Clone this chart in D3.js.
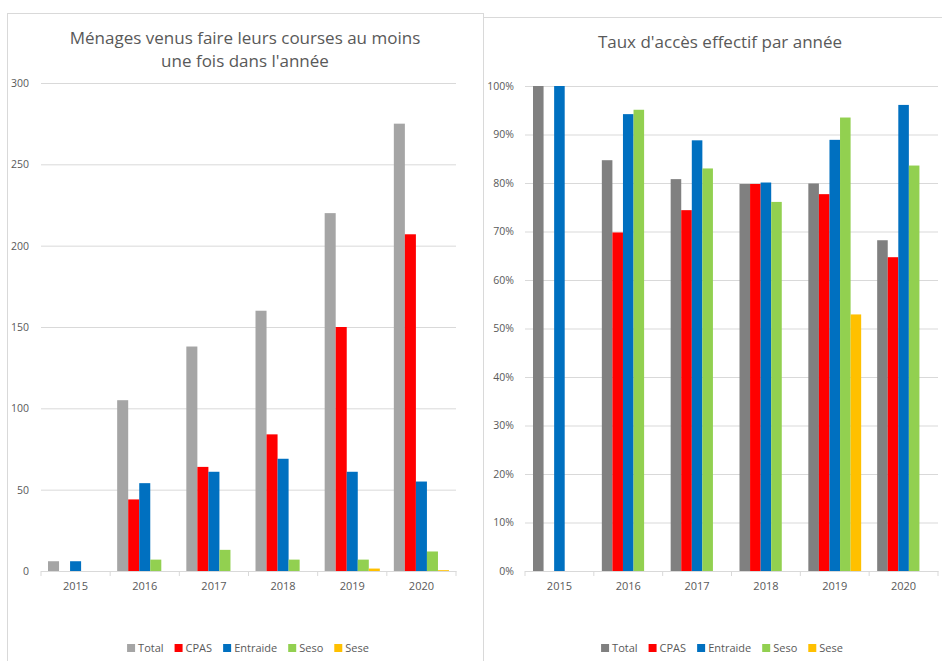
<!DOCTYPE html>
<html>
<head>
<meta charset="utf-8">
<script src="https://cdn.jsdelivr.net/npm/d3@7"></script>
<style>
  body { margin: 0; background: #fff; }
  svg { display: block; font-family: 'Open Sans', sans-serif; }
</style>
</head>
<body>
<svg id="chart" width="942" height="661"></svg>
<script>
const years = ['2015', '2016', '2017', '2018', '2019', '2020'];
const series = ['Total', 'CPAS', 'Entraide', 'Seso', 'Sese'];

// households per year (left chart)
const menTotal = [6, 105, 138, 160, 220, 275];
const menCpas = [0, 44, 64, 84, 150, 207];
const menEntraide = [6, 54, 61, 69, 61, 55];
const menSeso = [0, 7, 13, 7, 7, 12];
const menSese = [0, 0, 0, 0, 1.5, 0.5];
const menTicks = [0, 50, 100, 150, 200, 250, 300];

// effective access rate (right chart)
const tauxTotal = [1.0, 0.847, 0.808, 0.798, 0.799, 0.682];
const tauxCpas = [0, 0.698, 0.744, 0.798, 0.777, 0.647];
const tauxEntraide = [1.0, 0.942, 0.888, 0.801, 0.889, 0.961];
const tauxSeso = [0, 0.951, 0.830, 0.761, 0.935, 0.836];
const tauxSese = [0, 0, 0, 0, 0.529, 0];
const tauxTicks = [0, 0.1, 0.2, 0.3, 0.4, 0.5, 0.6, 0.7, 0.8, 0.9, 1.0];

const textColor = '#595959';
const gridColor = '#D9D9D9';

const svg = d3.select('#chart');

function drawPanel(opts) {
  const g = svg.append('g');

  g.append('rect')
    .attr('x', opts.box[0] + 0.5)
    .attr('y', opts.box[1] + 0.5)
    .attr('width', opts.box[2])
    .attr('height', opts.box[3])
    .attr('fill', '#fff')
    .attr('stroke', gridColor);

  opts.title.forEach((line, i) => {
    g.append('text')
      .attr('x', opts.titleX)
      .attr('y', opts.titleY + i * 23)
      .attr('text-anchor', 'middle')
      .attr('fill', textColor)
      .style('font-size', '17px')
      .text(line);
  });

  const x = d3.scaleBand()
    .domain(years)
    .range([opts.left, opts.right]);
  const xs = d3.scaleBand()
    .domain(series)
    .range([opts.barPad, x.bandwidth() - opts.barPad]);
  const y = d3.scaleLinear()
    .domain(opts.domain)
    .range([opts.bottom, opts.top]);

  // gridlines + y labels
  const yAxis = d3.axisLeft(y)
    .tickValues(opts.ticks)
    .tickSize(-(opts.right - opts.left))
    .tickPadding(opts.labelGap)
    .tickFormat(opts.fmt);
  g.append('g')
    .attr('transform', `translate(${opts.left},0)`)
    .call(yAxis)
    .call(a => {
      a.select('.domain').remove();
      a.selectAll('.tick line').attr('stroke', gridColor);
      a.selectAll('.tick text')
        .attr('fill', textColor)
        .style('font-size', '10.5px')
        .style('font-family', "'Open Sans', sans-serif");
    });

  // bars
  opts.values.forEach((vals, si) => {
    g.append('g')
      .selectAll('rect')
      .data(vals.map((v, i) => ({ year: years[i], v })))
      .join('rect')
      .attr('x', d => x(d.year) + xs(series[si]))
      .attr('width', xs.bandwidth())
      .attr('y', d => y(d.v))
      .attr('height', d => y(0) - y(d.v))
      .attr('fill', opts.colors[si]);
  });

  // category axis
  const xAxis = d3.axisBottom(x).tickSize(0).tickPadding(11);
  g.append('g')
    .attr('transform', `translate(0,${opts.bottom})`)
    .call(xAxis)
    .call(a => {
      a.select('.domain').attr('stroke', gridColor);
      a.selectAll('.tick text')
        .attr('fill', textColor)
        .style('font-size', '11px')
        .style('font-family', "'Open Sans', sans-serif");
    });
  g.append('g')
    .selectAll('line')
    .data(years.concat(['end']))
    .join('line')
    .attr('x1', (d, i) => i < years.length ? x(d) : opts.right)
    .attr('x2', (d, i) => i < years.length ? x(d) : opts.right)
    .attr('y1', opts.bottom)
    .attr('y2', opts.bottom + 5)
    .attr('stroke', gridColor);

  // legend
  const leg = g.append('g').attr('transform', `translate(0,${opts.legendY})`);
  const items = leg.selectAll('g')
    .data(series)
    .join('g');
  items.append('rect')
    .attr('y', -8)
    .attr('width', 8)
    .attr('height', 8)
    .attr('fill', (d, i) => opts.colors[i]);
  items.append('text')
    .attr('x', 11)
    .attr('fill', textColor)
    .style('font-size', '11px')
    .text(d => d);
  let cx = 0;
  const offs = [];
  items.each(function() {
    offs.push(cx);
    cx += 11 + this.querySelector('text').getComputedTextLength() + 11;
  });
  const total = cx - 11;
  const start = opts.legendX - total / 2;
  items.attr('transform', (d, i) => `translate(${start + offs[i]},0)`);
}

drawPanel({
  box: [7, 13, 476, 660],
  title: ['Ménages venus faire leurs courses au moins', 'une fois dans l\'année'],
  titleX: 245,
  titleY: 44,
  left: 41, right: 456, top: 83, bottom: 571,
  domain: [0, 300],
  ticks: menTicks,
  fmt: d3.format('d'),
  labelGap: 12,
  barPad: 7,
  values: [menTotal, menCpas, menEntraide, menSeso, menSese],
  colors: ['#A5A5A5', '#FF0000', '#0070C0', '#92D050', '#FFC000'],
  legendX: 248,
  legendY: 652
});

drawPanel({
  box: [483, 17, 470, 660],
  title: ['Taux d\'accès effectif par année'],
  titleX: 720,
  titleY: 48,
  left: 525, right: 938, top: 86, bottom: 571,
  domain: [0, 1],
  ticks: tauxTicks,
  fmt: d3.format('.0%'),
  labelGap: 11,
  barPad: 8,
  values: [tauxTotal, tauxCpas, tauxEntraide, tauxSeso, tauxSese],
  colors: ['#808080', '#FF0000', '#0070C0', '#92D050', '#FFC000'],
  legendX: 722,
  legendY: 652
});
</script>
</body>
</html>
